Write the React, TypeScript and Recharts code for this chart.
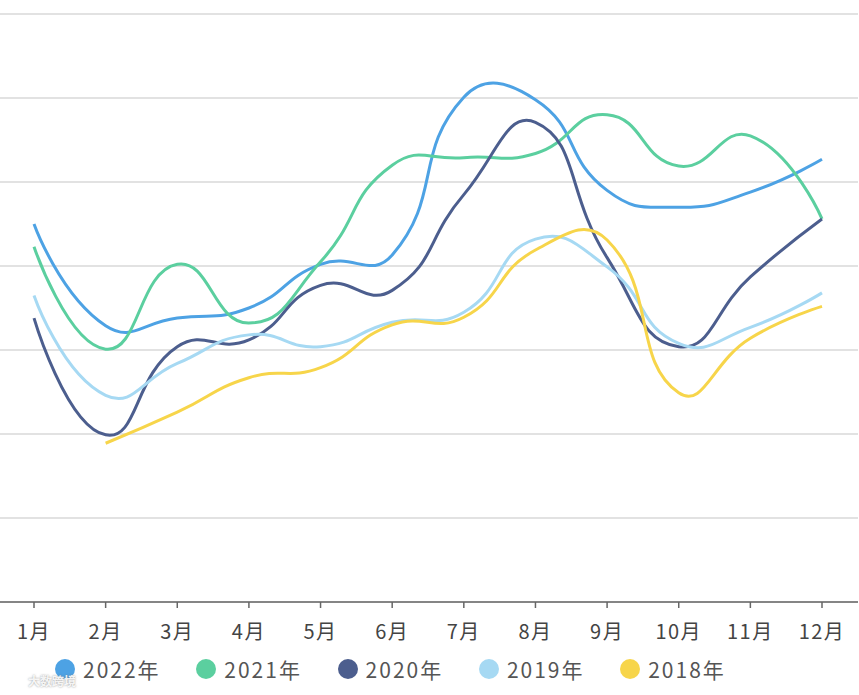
import React from 'react';
import { LineChart, Line, XAxis, YAxis, CartesianGrid, Legend } from 'recharts';

const months = ['1月', '2月', '3月', '4月', '5月', '6月', '7月', '8月', '9月', '10月', '11月', '12月'];
const s2022 = [45, 32.9, 33.8, 35, 40.2, 41.3, 60.1, 59.8, 49, 47.0, 48.8, 52.7];
const s2021 = [42.3, 30.1, 40.2, 33.2, 40.5, 52, 52.9, 53.4, 58, 51.9, 55.5, 45.6];
const s2020 = [33.8, 19.9, 30.4, 31.2, 37.7, 37.1, 48.5, 57.1, 41, 30.4, 38.7, 45.6];
const s2019 = [36.5, 24.6, 28.4, 31.8, 30.4, 33.3, 34.5, 43.2, 39.9, 30.8, 32.7, 36.8];
const s2018 = [null, 18.9, 22.6, 26.7, 27.9, 33, 33.9, 41.9, 43.1, 24.9, 31.4, 35.2];
const yTicks = [0, 10, 20, 30, 40, 50, 60, 70];

const seriesDefs = [
  { key: 'y2022', name: '2022年', color: '#4da2e4', values: s2022 },
  { key: 'y2021', name: '2021年', color: '#5bcf9f', values: s2021 },
  { key: 'y2020', name: '2020年', color: '#4c5e8e', values: s2020 },
  { key: 'y2019', name: '2019年', color: '#a6d9f3', values: s2019 },
  { key: 'y2018', name: '2018年', color: '#f7d54a', values: s2018 },
];

const data = months.map((m, i) => {
  const row: any = { month: m };
  seriesDefs.forEach((s) => {
    row[s.key] = s.values[i];
  });
  return row;
});

// ECharts-like smooth bezier curve factory (smooth = 0.5)
function smoothCurve(context: any) {
  let pts: [number, number][] = [];
  return {
    areaStart() {},
    areaEnd() {},
    lineStart() {
      pts = [];
    },
    lineEnd() {
      const n = pts.length;
      if (!n) return;
      context.moveTo(pts[0][0], pts[0][1]);
      if (n === 1) return;
      const s = 0.5;
      let c0x = pts[0][0];
      let c0y = pts[0][1];
      for (let i = 1; i < n; i++) {
        const [x, y] = pts[i];
        const [px, py] = pts[i - 1];
        let c1x = x, c1y = y, n0x = x, n0y = y;
        if (i < n - 1) {
          const [nx, ny] = pts[i + 1];
          const vx = nx - px;
          const vy = ny - py;
          const lp = Math.hypot(x - px, y - py);
          const ln = Math.hypot(nx - x, ny - y);
          const r = ln + lp > 0 ? ln / (ln + lp) : 0.5;
          c1x = x - vx * s * (1 - r);
          c1y = y - vy * s * (1 - r);
          n0x = x + vx * s * r;
          n0y = y + vy * s * r;
        }
        context.bezierCurveTo(c0x, c0y, c1x, c1y, x, y);
        c0x = n0x;
        c0y = n0y;
      }
    },
    point(x: number, y: number) {
      pts.push([+x, +y]);
    },
  };
}

const FONT = '"Noto Sans CJK SC", "Noto Sans", sans-serif';

const LegendContent = () => (
  <div
    style={{
      height: 53,
      display: 'flex',
      alignItems: 'center',
      paddingLeft: 57,
      fontFamily: FONT,
      boxSizing: 'border-box',
    }}
  >
    {seriesDefs.map((s) => (
      <div key={s.key} style={{ width: 141.3, display: 'flex', alignItems: 'center', flexShrink: 0 }}>
        <span
          style={{
            display: 'inline-block',
            width: 20,
            height: 20,
            borderRadius: 10,
            background: s.color,
            marginRight: 8,
          }}
        />
        <span style={{ fontSize: 21, color: '#555', letterSpacing: 2, lineHeight: '24px' }}>{s.name}</span>
      </div>
    ))}
  </div>
);

export default function App() {
  return (
    <div style={{ position: 'absolute', left: -2, top: 0, width: 862, height: 695, background: '#fff' }}>
      <LineChart
        width={860}
        height={695}
        data={data}
        margin={{ top: 14, right: 0, left: 0, bottom: 0 }}
        style={{ fontFamily: FONT }}
      >
        <CartesianGrid vertical={false} stroke="#e2e2e2" strokeWidth={2} />
        <XAxis
          dataKey="month"
          type="category"
          padding={{ left: 36, right: 36 }}
          height={40}
          tickSize={6}
          tickMargin={17}
          axisLine={{ stroke: '#666', strokeWidth: 1.5 }}
          tickLine={{ stroke: '#666', strokeWidth: 1.5 }}
          tick={{ fill: '#444', fontSize: 20, letterSpacing: 1.5 }}
          interval={0}
        />
        <YAxis hide domain={[0, 70]} ticks={yTicks} />
        {seriesDefs.map((s) => (
          <Line
            key={s.key}
            dataKey={s.key}
            name={s.name}
            stroke={s.color}
            strokeWidth={3}
            type={smoothCurve as any}
            dot={false}
            activeDot={false}
            isAnimationActive={false}
          />
        ))}
        <Legend verticalAlign="bottom" align="left" content={LegendContent} />
      </LineChart>
      <div
        style={{
          position: 'absolute',
          left: 30,
          top: 672,
          fontFamily: FONT,
          fontSize: 12,
          fontWeight: 700,
          color: 'rgba(255,255,255,0.9)',
          textShadow: '0 0 2px rgba(120,120,120,0.8)',
          pointerEvents: 'none',
        }}
      >
        大数跨境
      </div>
    </div>
  );
}
